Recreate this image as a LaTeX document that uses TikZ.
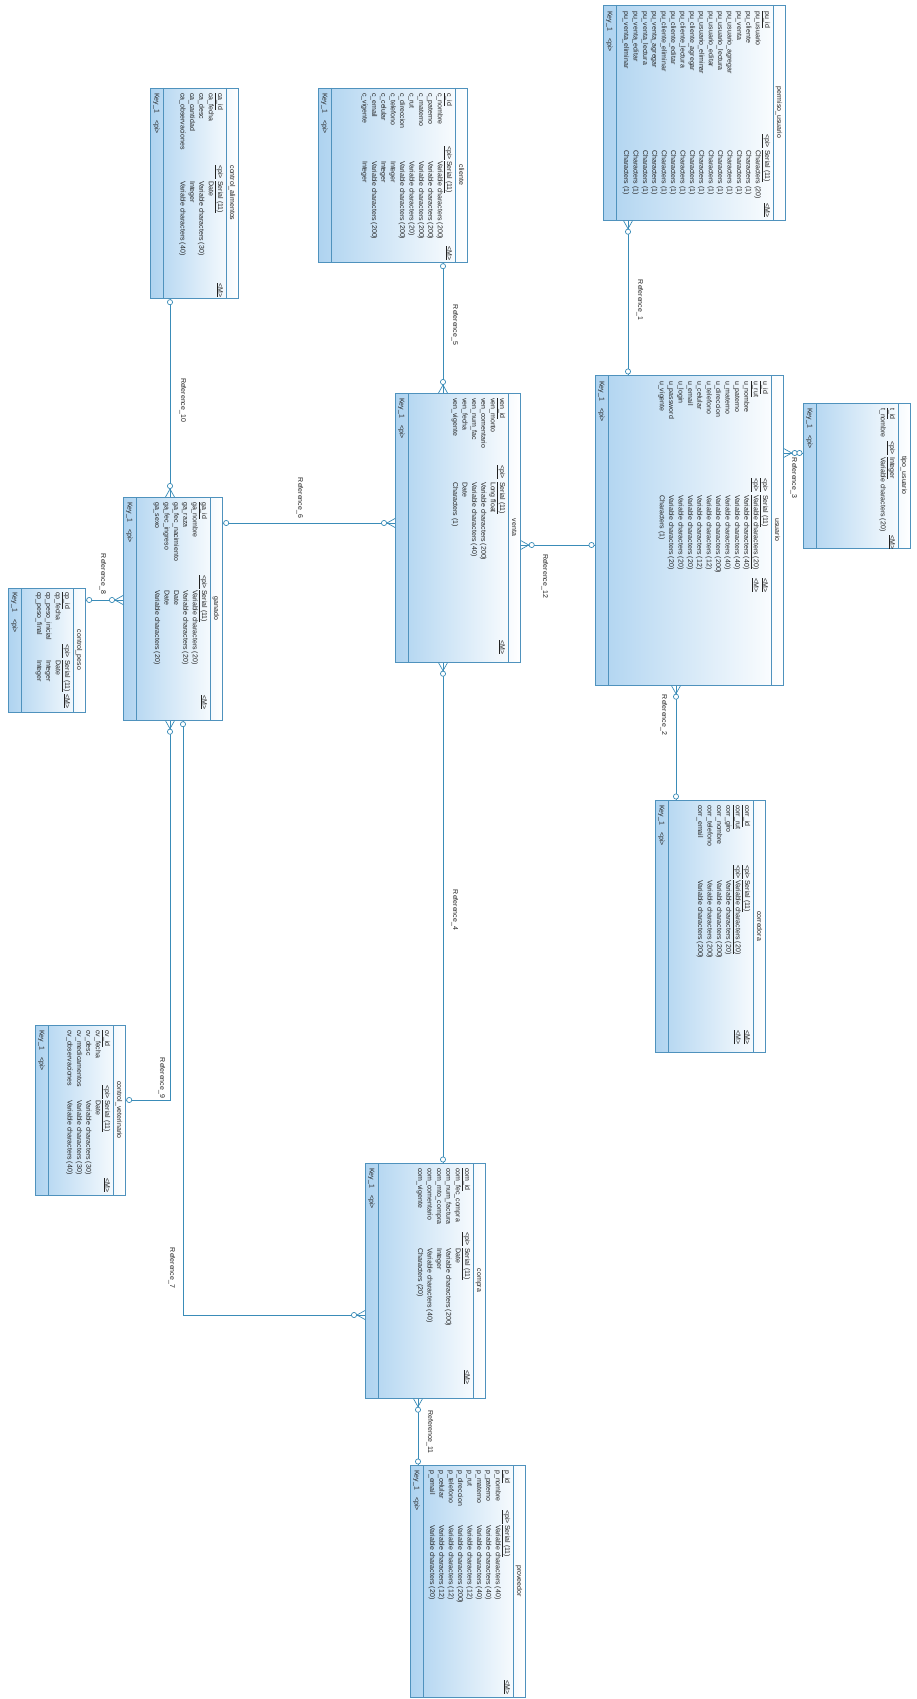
\documentclass[tikz,border=0pt]{standalone}
\usepackage{fontspec}
\setmainfont{Liberation Sans}
\usetikzlibrary{calc}
\definecolor{bordc}{HTML}{4F92BD}
\definecolor{connc}{HTML}{3A8CB8}
\definecolor{tblue}{HTML}{AED3F0}
\definecolor{txtc}{HTML}{222222}
\tikzset{
  tbox/.style={draw=bordc, line width=0.7pt, inner sep=0, anchor=north west, left color=tblue, right color=white},
  rt/.style={rotate=-90, inner sep=0, text=txtc, font=\fontsize{7}{7}\selectfont, text height=5pt, text depth=1.4pt, anchor=west},
  conn/.style={draw=connc, line width=0.7pt},
  lbl/.style={rotate=-90, inner sep=0, text=txtc, font=\fontsize{7}{8}\selectfont, anchor=center},
}
\newcommand\ertab[6]{%
  \node[tbox, minimum width={(#4-#2)*1pt}, minimum height={(#5-#3)*1pt}] (#1) at (#2,#3) {};
  \draw[bordc, line width=0.7pt] ({#4-12},#3) -- ({#4-12},#5);
  \draw[bordc, line width=0.7pt] ({#2+13},#3) -- ({#2+13},#5);
  \node[rt, anchor=center] at ({#4-6},{(#3+#5)/2}) {#6};
  \def\txL{#2}\def\txR{#4}}
\newcommand\tcols[4]{\def\yN{#1}\def\yP{#2}\def\yTy{#3}\def\yM{#4}%
  \pgfmathsetmacro\cx{\txR-18}%
  \node[rt] at ({\txL+6.5},\yN) {Key\_1\hspace{7pt}<pi>};}
\def\pitch{9.4}
\newcommand\rw[2]{\node[rt] at (\cx,\yN) {#1}; \node[rt] at (\cx,\yTy) {#2}; \pgfmathsetmacro\cx{\cx-\pitch}}
\newcommand\pk[2]{\node[rt] at (\cx,\yN) {\underline{#1}}; \node[rt] at (\cx,\yP) {\underline{<pi>}};
  \node[rt] at (\cx,\yTy) {\underline{#2}}; \node[rt] at (\cx,\yM) {\underline{<M>}}; \pgfmathsetmacro\cx{\cx-\pitch}}
\newcommand\crow[2]{%
  \draw[conn] ($(#1)+(#2:8)$) -- ($(#1)+(#2+90:4.5)$);
  \draw[conn] ($(#1)+(#2:8)$) -- ($(#1)+(#2-90:4.5)$);
  \draw[conn, fill=white] ($(#1)+(#2:11)$) circle[radius=2.6pt];}
\newcommand\onee[2]{\draw[conn, fill=white] ($(#1)+(#2:3.5)$) circle[radius=2.6pt];}
\begin{document}
\begin{tikzpicture}[x=1pt, y=-1pt]
\useasboundingbox[fill=white] (0,0) rectangle (917,1699);

% permiso_usuario
\ertab{perm}{603}{5}{785}{220}{permiso\_usuario}
\tcols{11}{134}{150}{203}
\pk{pu\_id}{Serial (11)}
\rw{pu\_usuario}{Characters (20)}
\rw{pu\_cliente}{Characters (1)}
\rw{pu\_venta}{Characters (1)}
\rw{pu\_usuario\_agregar}{Characters (1)}
\rw{pu\_usuario\_lectura}{Characters (1)}
\rw{pu\_usuario\_editar}{Characters (1)}
\rw{pu\_usuario\_eliminar}{Characters (1)}
\rw{pu\_cliente\_agregar}{Characters (1)}
\rw{pu\_cliente\_lectura}{Characters (1)}
\rw{pu\_cliente\_editar}{Characters (1)}
\rw{pu\_cliente\_eliminar}{Characters (1)}
\rw{pu\_venta\_agregar}{Characters (1)}
\rw{pu\_venta\_lectura}{Characters (1)}
\rw{pu\_venta\_editar}{Characters (1)}
\rw{pu\_venta\_eliminar}{Characters (1)}

% cliente
\ertab{cli}{318}{88}{467}{262}{cliente}
\tcols{93}{146}{161}{246}
\pk{c\_id}{Serial (11)}
\rw{c\_nombre}{Variable characters (200)}
\rw{c\_paterno}{Variable characters (200)}
\rw{c\_materno}{Variable characters (200)}
\rw{c\_rut}{Variable characters (20)}
\rw{c\_direccion}{Variable characters (200)}
\rw{c\_telefono}{Integer}
\rw{c\_celular}{Integer}
\rw{c\_email}{Variable characters (200)}
\rw{c\_vigente}{Integer}

% control_alimentos
\ertab{ca}{150}{88}{238}{298}{control\_alimentos}
\tcols{93}{165}{181}{283}
\pk{ca\_id}{Serial (11)}
\rw{ca\_fecha}{Date}
\rw{ca\_desc}{Variable characters (30)}
\rw{ca\_cantidad}{Integer}
\rw{ca\_observaciones}{Variable characters (40)}

% usuario
\ertab{usu}{595}{375}{783}{685}{usuario}
\tcols{381}{478}{495}{578}
\pk{u\_id}{Serial (11)}
\pk{u\_rut}{Variable characters (20)}
\rw{u\_nombre}{Variable characters (40)}
\rw{u\_paterno}{Variable characters (40)}
\rw{u\_materno}{Variable characters (40)}
\rw{u\_direccion}{Variable characters (200)}
\rw{u\_telefono}{Variable characters (12)}
\rw{u\_celular}{Variable characters (12)}
\rw{u\_email}{Variable characters (20)}
\rw{u\_login}{Variable characters (20)}
\rw{u\_password}{Variable characters (20)}
\rw{u\_vigente}{Characters (1)}

% tipo_usuario
\ertab{tipo}{803}{403}{910}{548}{tipo\_usuario}
\tcols{408}{441}{457}{535}
\pk{t\_id}{Integer}
\rw{t\_nombre}{Variable characters (20)}

% venta
\ertab{venta}{395}{393}{520}{662}{venta}
\tcols{398}{465}{482}{640}
\pk{ven\_id}{Serial (11)}
\rw{ven\_monto}{Long float}
\rw{ven\_comentario}{Variable characters (200)}
\rw{ven\_num\_fac}{Variable characters (40)}
\rw{ven\_fecha}{Date}
\rw{ven\_vigente}{Characters (1)}

% ganado
\ertab{gan}{123}{497}{222}{720}{ganado}
\tcols{502}{575}{590}{695}
\pk{ga\_id}{Serial (11)}
\rw{ga\_nombre}{Variable characters (20)}
\rw{ga\_raza}{Variable characters (20)}
\rw{ga\_fec\_nacimiento}{Date}
\rw{ga\_fec\_ingreso}{Date}
\rw{ga\_sexo}{Variable characters (20)}

% control_peso
\ertab{cp}{8}{588}{85}{712}{control\_peso}
\tcols{592}{644}{660}{694}
\pk{cp\_id}{Serial (11)}
\rw{cp\_fecha}{Date}
\rw{cp\_peso\_inicial}{Integer}
\rw{cp\_peso\_final}{Integer}

% corredora
\ertab{corr}{655}{800}{765}{1052}{corredora}
\tcols{805}{865}{880}{1030}
\pk{corr\_id}{Serial (11)}
\pk{corr\_rut}{Variable characters (20)}
\rw{corr\_giro}{Variable characters (20)}
\rw{corr\_nombre}{Variable characters (200)}
\rw{corr\_telefono}{Variable characters (200)}
\rw{corr\_email}{Variable characters (200)}

% control_veterinario
\ertab{cv}{35}{1025}{125}{1195}{control\_veterinario}
\tcols{1030}{1085}{1100}{1178}
\pk{cv\_id}{Serial (11)}
\rw{cv\_fecha}{Date}
\rw{cv\_desc}{Variable characters (30)}
\rw{cv\_medicamentos}{Variable characters (30)}
\rw{cv\_observaciones}{Variable characters (40)}

% compra
\ertab{comp}{365}{1163}{485}{1398}{compra}
\tcols{1168}{1232}{1248}{1370}
\pk{com\_id}{Serial (11)}
\rw{com\_fec\_compra}{Date}
\rw{com\_num\_factura}{Variable characters (200)}
\rw{com\_mto\_compra}{Integer}
\rw{com\_comentario}{Variable characters (40)}
\rw{com\_vigente}{Characters (20)}

% proveedor
\ertab{prov}{410}{1465}{525}{1697}{proveedor}
\tcols{1470}{1510}{1525}{1680}
\pk{p\_id}{Serial (11)}
\rw{p\_nombre}{Variable characters (40)}
\rw{p\_paterno}{Variable characters (40)}
\rw{p\_materno}{Variable characters (40)}
\rw{p\_rut}{Variable characters (12)}
\rw{p\_direccion}{Variable characters (200)}
\rw{p\_telefono}{Variable characters (12)}
\rw{p\_celular}{Variable characters (12)}
\rw{p\_email}{Variable characters (20)}

% ---- connectors ----
\coordinate (x1) at (628,0);
\draw[conn] (perm.south -| x1) coordinate (r1a) -- (usu.north -| x1) coordinate (r1b);
\crow{r1a}{90} \onee{r1b}{270}
\node[lbl] (L1) at (640,300) {Reference\_1};

\coordinate (x2) at (676,0);
\draw[conn] (usu.south -| x2) coordinate (r2a) -- (corr.north -| x2) coordinate (r2b);
\crow{r2a}{90} \onee{r2b}{270}
\node[lbl] (L2) at (664,715) {Reference\_2};

\coordinate (y3) at (0,453);
\draw[conn] (usu.east |- y3) coordinate (r3a) -- (tipo.west |- y3) coordinate (r3b);
\crow{r3a}{0} \onee{r3b}{180}
\node[lbl] (L3) at (794,478) {Reference\_3};

\coordinate (y12) at (0,545);
\draw[conn] (venta.east |- y12) coordinate (r12a) -- (usu.west |- y12) coordinate (r12b);
\crow{r12a}{0} \onee{r12b}{180}
\node[lbl] (L12) at (545,576) {Reference\_12};

\coordinate (x5) at (443,0);
\draw[conn] (cli.south -| x5) coordinate (r5a) -- (venta.north -| x5) coordinate (r5b);
\onee{r5a}{90} \crow{r5b}{270}
\node[lbl] (L5) at (455,325) {Reference\_5};

\coordinate (y6) at (0,523);
\draw[conn] (gan.east |- y6) coordinate (r6a) -- (venta.west |- y6) coordinate (r6b);
\onee{r6a}{0} \crow{r6b}{180}
\node[lbl] (L6) at (300,498) {Reference\_6};

\coordinate (x10) at (170,0);
\draw[conn] (ca.south -| x10) coordinate (r10a) -- (gan.north -| x10) coordinate (r10b);
\onee{r10a}{90} \crow{r10b}{270}
\node[lbl] (L10) at (183,400) {Reference\_10};

\coordinate (y8) at (0,600);
\draw[conn] (cp.east |- y8) coordinate (r8a) -- (gan.west |- y8) coordinate (r8b);
\onee{r8a}{0} \crow{r8b}{180}
\node[lbl] (L8) at (103,574) {Reference\_8};

\coordinate (x4) at (443,0);
\draw[conn] (venta.south -| x4) coordinate (r4a) -- (comp.north -| x4) coordinate (r4b);
\crow{r4a}{90} \onee{r4b}{270}
\node[lbl] (L4) at (455,910) {Reference\_4};

\coordinate (x11) at (418,0);
\draw[conn] (comp.south -| x11) coordinate (r11a) -- (prov.north -| x11) coordinate (r11b);
\crow{r11a}{90} \onee{r11b}{270}
\node[lbl] (L11) at (430,1432) {Reference\_11};

\coordinate (x9) at (170,0);
\coordinate (y9) at (0,1100);
\draw[conn] (gan.south -| x9) coordinate (r9a) |- (cv.east |- y9) coordinate (r9b);
\crow{r9a}{90} \onee{r9b}{0}
\node[lbl] (L9) at (162,1078) {Reference\_9};

\coordinate (x7) at (183,0);
\coordinate (y7) at (0,1315);
\draw[conn] (gan.south -| x7) coordinate (r7a) |- (comp.west |- y7) coordinate (r7b);
\onee{r7a}{90} \crow{r7b}{180}
\node[lbl] (L7) at (172,1268) {Reference\_7};
\end{tikzpicture}
\end{document}
